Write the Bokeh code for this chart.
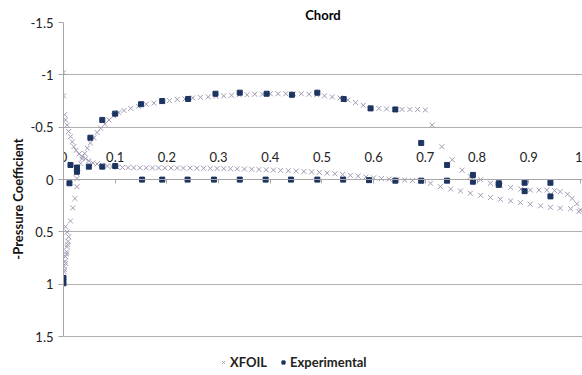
from bokeh.plotting import figure
from bokeh.models import (Range1d, FixedTicker, NumeralTickFormatter, Legend, LegendItem)
from bokeh.embed import file_html
from bokeh.resources import INLINE

# ---------------- data ----------------
xfoil_flat_x = [0.000, 0.000, 0.002, 0.004, 0.007, 0.010, 0.0135, 0.017, 0.020, 0.0245,
                0.030, 0.036, 0.0425, 0.049, 0.057, 0.065, 0.075, 0.085, 0.094, 0.104,
                0.114, 0.125, 0.136, 0.148, 0.160, 0.172, 0.184, 0.196, 0.208, 0.220,
                0.232, 0.245, 0.258, 0.271, 0.284, 0.297, 0.310, 0.323, 0.336, 0.350,
                0.364, 0.378, 0.392, 0.406, 0.420, 0.435, 0.450, 0.465, 0.480, 0.495,
                0.510, 0.525, 0.540, 0.555, 0.570, 0.585, 0.600, 0.615, 0.630, 0.645,
                0.660, 0.675, 0.690, 0.710, 0.729, 0.749, 0.768, 0.787, 0.807, 0.826,
                0.845, 0.865, 0.884, 0.903, 0.923, 0.942, 0.961, 0.981, 0.997]
xfoil_flat_cp = [-1.02, -0.80, -0.62, -0.57, -0.52, -0.46, -0.41, -0.36, -0.315, -0.28,
                 -0.245, -0.22, -0.20, -0.18, -0.16, -0.15, -0.137, -0.13, -0.124, -0.118,
                 -0.116, -0.115, -0.114, -0.113, -0.113, -0.112, -0.112, -0.112, -0.111, -0.111,
                 -0.110, -0.110, -0.109, -0.108, -0.107, -0.106, -0.105, -0.104, -0.103, -0.101,
                 -0.099, -0.097, -0.094, -0.091, -0.088, -0.085, -0.082, -0.078, -0.074, -0.069,
                 -0.063, -0.056, -0.049, -0.041, -0.033, -0.025, -0.017, -0.010, -0.004, 0.000,
                 0.004, 0.009, 0.016, 0.035, 0.067, 0.090, 0.108, 0.130, 0.150, 0.170,
                 0.188, 0.203, 0.220, 0.235, 0.250, 0.265, 0.272, 0.278, 0.305]

xfoil_rise_x = [0.000, 0.000, 0.001, 0.002, 0.001, 0.004, 0.003, 0.006, 0.004, 0.008,
                0.006, 0.007, 0.009, 0.010, 0.007, 0.004, 0.0135, 0.018, 0.022, 0.026,
                0.026, 0.0245, 0.028, 0.033, 0.036, 0.041, 0.046, 0.052, 0.059, 0.065,
                0.072, 0.080, 0.088, 0.097, 0.107, 0.117, 0.130, 0.145, 0.160, 0.175,
                0.190, 0.205, 0.220, 0.235, 0.250, 0.265, 0.280, 0.295, 0.310, 0.325,
                0.340, 0.355, 0.370, 0.385, 0.400, 0.415, 0.430, 0.445, 0.460, 0.475,
                0.490, 0.505, 0.520, 0.535, 0.550, 0.565, 0.580, 0.595, 0.610, 0.625,
                0.640, 0.655, 0.670, 0.685, 0.700, 0.713, 0.732, 0.752, 0.771, 0.787,
                0.807, 0.826, 0.845, 0.865, 0.885, 0.903, 0.920, 0.935, 0.950, 0.961,
                0.975, 0.984, 0.993, 1.000]
xfoil_rise_cp = [0.975, 0.93, 0.88, 0.86, 0.83, 0.80, 0.78, 0.71, 0.735, 0.62,
                 0.69, 0.64, 0.59, 0.545, 0.50, 0.45, 0.395, 0.27, 0.18, 0.067,
                 -0.01, -0.06, -0.11, -0.156, -0.20, -0.25, -0.30, -0.35, -0.40, -0.45,
                 -0.49, -0.53, -0.57, -0.61, -0.64, -0.66, -0.68, -0.70, -0.72, -0.73,
                 -0.745, -0.755, -0.765, -0.77, -0.78, -0.785, -0.79, -0.795, -0.80, -0.805,
                 -0.81, -0.81, -0.815, -0.815, -0.82, -0.82, -0.82, -0.82, -0.82, -0.815,
                 -0.81, -0.80, -0.79, -0.78, -0.76, -0.735, -0.71, -0.69, -0.68, -0.675,
                 -0.67, -0.67, -0.67, -0.67, -0.665, -0.52, -0.315, -0.19, -0.09, -0.03,
                 0.00, 0.035, 0.055, 0.075, 0.09, 0.10, 0.10, 0.10, 0.105, 0.115,
                 0.14, 0.18, 0.23, 0.29]

exp_x = [0.0, 0.0, 0.0115, 0.0135, 0.026, 0.026, 0.049, 0.052, 0.075, 0.075,
         0.10, 0.10, 0.15, 0.152, 0.191, 0.191, 0.240, 0.241, 0.291, 0.294,
         0.341, 0.341, 0.391, 0.393, 0.440, 0.442, 0.491, 0.491, 0.541, 0.542,
         0.591, 0.594, 0.642, 0.642, 0.692, 0.692, 0.742, 0.742, 0.792, 0.792,
         0.842, 0.842, 0.892, 0.892, 0.942, 0.942]
exp_cp = [0.99, 0.94, 0.035, -0.14, -0.115, -0.075, -0.124, -0.40, -0.124, -0.57,
          -0.13, -0.63, -0.72, 0.0, -0.75, 0.0, 0.0, -0.77, 0.0, -0.82,
          0.0, -0.83, 0.0, -0.82, 0.0, -0.81, 0.0, -0.83, 0.0, -0.77,
          0.005, -0.68, 0.01, -0.67, 0.01, -0.35, 0.01, -0.14, 0.02, -0.045,
          0.035, 0.05, 0.03, 0.11, 0.03, 0.16]

x_ticks = [0, 0.1, 0.2, 0.3, 0.4, 0.5, 0.6, 0.7, 0.8, 0.9, 1.0]
y_ticks = [-1.5, -1.0, -0.5, 0.0, 0.5, 1.0, 1.5]
y_axis_min, y_axis_max = -1.5, 1.5

title_text = "Chord"
y_label = "-Pressure Coefficient"
series_names = ["XFOIL", "Experimental"]

# ---------------- figure ----------------
FONT = "Lato"
# the frame runs a little below 1.5 so the legend can sit under the axis
p = figure(width=582, height=375, output_backend="svg", toolbar_location=None,
           x_range=Range1d(0, 1.004), y_range=Range1d(1.87, -1.5),
           x_axis_location="above",
           min_border_left=63, min_border_right=0, min_border_top=22, min_border_bottom=0)

p.title.text = title_text
p.title.align = "center"
p.title.text_font = FONT
p.title.text_font_size = "13px"
p.title.text_font_style = "bold"
p.title.text_color = "#000000"
p.title.standoff = 0

p.outline_line_color = None
p.background_fill_color = "white"
p.border_fill_color = "white"

xa = p.xaxis[0]
xa.fixed_location = 0
xa.ticker = FixedTicker(ticks=x_ticks)
xa.formatter = NumeralTickFormatter(format="0.[0]")
xa.axis_line_color = "#a6a6a6"
xa.major_tick_line_color = "#a6a6a6"
xa.major_tick_in = 4
xa.major_tick_out = 0
xa.minor_tick_line_color = None
xa.major_label_standoff = 18
xa.major_label_text_font = FONT
xa.major_label_text_font_size = "13px"
xa.major_label_text_color = "#222222"

ya = p.yaxis[0]
ya.bounds = (y_axis_min, y_axis_max)
ya.ticker = FixedTicker(ticks=y_ticks)
ya.formatter = NumeralTickFormatter(format="0.[0]")
ya.axis_line_color = "#a6a6a6"
ya.major_tick_line_color = "#a6a6a6"
ya.major_tick_out = 5
ya.major_tick_in = 0
ya.minor_tick_line_color = None
ya.major_label_standoff = 5
ya.major_label_text_font = FONT
ya.major_label_text_font_size = "13px"
ya.major_label_text_color = "#222222"
ya.axis_label = y_label
ya.axis_label_text_font = FONT
ya.axis_label_text_font_size = "13px"
ya.axis_label_text_font_style = "bold"
ya.axis_label_text_color = "#111111"
ya.axis_label_standoff = 2

p.xgrid.grid_line_color = None
p.ygrid.ticker = FixedTicker(ticks=y_ticks)
p.ygrid.grid_line_color = "#b0b0b0"
p.ygrid.grid_line_width = 1

r_x1 = p.scatter(xfoil_flat_x, xfoil_flat_cp, marker="x", size=7,
                 line_color="#a09ab4", line_width=1)
r_x2 = p.scatter(xfoil_rise_x, xfoil_rise_cp, marker="x", size=7,
                 line_color="#a09ab4", line_width=1)
r_e = p.scatter(exp_x, exp_cp, marker="square", size=5,
                fill_color="#1d3461", line_color="#1d3461")

legend = Legend(items=[LegendItem(label=series_names[0], renderers=[r_x1, r_x2]),
                       LegendItem(label=series_names[1], renderers=[r_e])],
                orientation="horizontal", location=(156, 5),
                margin=0, padding=0, spacing=12, glyph_width=8, glyph_height=12,
                label_standoff=3, label_height=14,
                border_line_color=None, background_fill_alpha=0)
legend.label_text_font = FONT
legend.label_text_font_size = "13px"
legend.label_text_font_style = "bold"
legend.label_text_color = "#222222"
p.add_layout(legend)

open("out.html", "w").write(file_html(p, INLINE))
